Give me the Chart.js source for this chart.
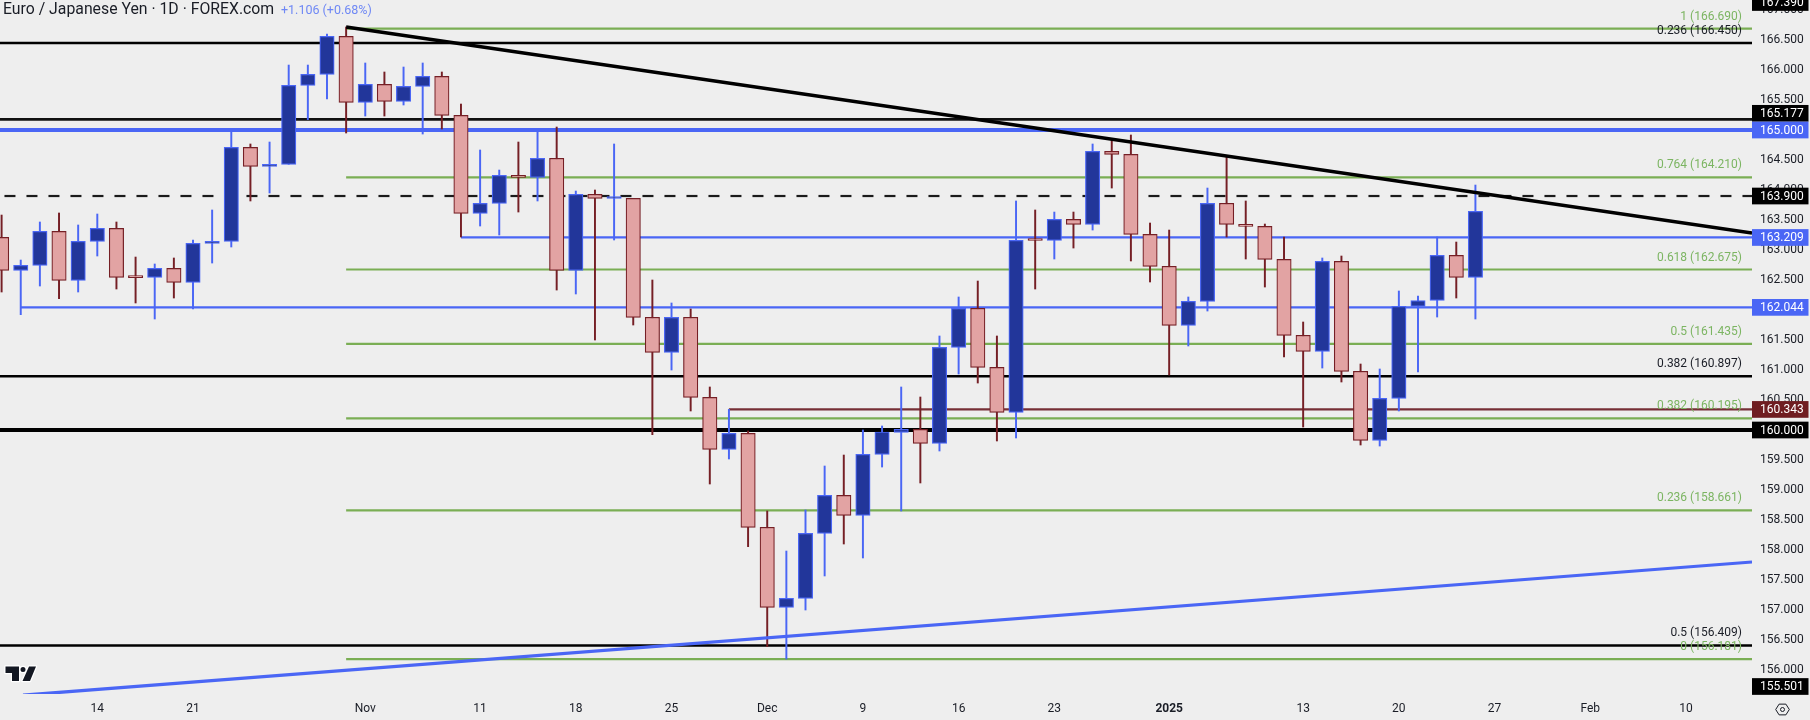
<!DOCTYPE html>
<html><head><meta charset="utf-8">
<style>html,body{margin:0;padding:0;background:#eeeeee;overflow:hidden}canvas{display:block}</style>
<script src="https://cdn.jsdelivr.net/npm/chart.js@4"></script>
</head><body><canvas id="c" width="1810" height="720"></canvas>
<script>
const opens=[163.211,162.661,162.744,163.311,162.494,163.144,163.361,162.544,162.544,162.694,162.461,163.111,163.144,164.711,164.394,164.428,165.744,165.928,166.561,165.461,165.761,165.478,165.728,165.894,165.244,163.611,163.778,164.244,164.211,164.528,162.661,163.928,163.858,163.861,161.878,161.294,161.878,160.544,159.678,159.944,158.378,157.044,157.194,158.278,158.911,158.578,159.594,159.961,160.011,159.778,161.378,162.028,161.044,160.294,163.161,163.161,163.511,163.428,164.644,164.594,163.261,162.728,161.744,162.144,163.778,163.428,163.394,162.844,161.578,161.311,162.811,160.978,159.828,160.528,162.061,162.161,162.911,162.544];
const closes=[162.661,162.744,163.311,162.494,163.144,163.361,162.544,162.540,162.694,162.461,163.111,163.144,164.711,164.394,164.428,165.744,165.928,166.561,165.461,165.761,165.478,165.728,165.894,165.244,163.611,163.778,164.244,164.211,164.528,162.661,163.928,163.861,163.861,161.878,161.294,161.878,160.544,159.678,159.944,158.378,157.044,157.194,158.278,158.911,158.578,159.594,159.967,160.011,159.778,161.378,162.028,161.044,160.294,163.161,163.158,163.511,163.428,164.644,164.594,163.261,162.728,161.744,162.144,163.778,163.428,163.394,162.844,161.578,161.311,162.811,160.978,159.828,160.528,162.061,162.156,162.911,162.544,163.644];
const highs=[163.583,162.833,163.467,163.617,163.417,163.600,163.467,162.883,162.767,162.867,163.167,163.667,164.972,164.767,164.800,166.083,166.083,166.600,166.717,166.117,165.967,166.050,166.117,165.967,165.433,164.667,164.333,164.800,164.972,165.050,163.983,164.000,164.767,163.861,162.500,162.117,162.017,160.717,160.344,159.983,158.650,157.983,158.667,159.400,159.583,160.000,160.067,160.717,160.550,161.567,162.217,162.483,161.567,163.817,163.667,163.633,163.633,164.767,164.833,164.917,163.450,163.333,162.217,164.033,164.556,163.817,163.433,163.217,161.800,162.867,162.900,161.100,161.017,162.317,162.233,163.217,163.133,164.083];
const lows=[162.300,161.922,162.400,162.189,162.300,162.900,162.350,162.117,161.850,162.200,162.017,162.783,163.050,163.817,163.950,164.428,165.172,165.517,164.950,165.233,165.233,165.417,164.933,165.017,163.217,163.400,163.250,163.633,163.817,162.333,162.267,161.500,163.167,161.750,159.922,161.000,160.317,159.100,159.517,158.056,156.389,156.183,157.000,157.567,158.100,157.867,159.383,158.650,159.117,159.650,160.933,160.783,159.817,159.867,162.350,162.850,163.033,163.333,164.033,162.817,162.467,160.917,161.400,161.983,163.217,162.850,162.383,161.217,160.050,161.033,160.800,159.750,159.733,160.317,160.967,161.883,162.200,161.850];

const xTickIndex=[5,10,19,25,30,35,40,45,50,55,61,68,73,78,83,88];
const xTickLabels=['14','21','Nov','11','18','25','Dec','9','16','23','2025','13','20','27','Feb','10'];
const yTickValues=[156,156.5,157,157.5,158,158.5,159,159.5,160,160.5,161,161.5,162,162.5,163,163.5,164,164.5,165,165.5,166,166.5,167];

const fibGreen=[166.690,164.210,162.675,161.435,160.195,158.661,156.181];
const fibGreenLabels=['1 (166.690)','0.764 (164.210)','0.618 (162.675)','0.5 (161.435)','0.382 (160.195)','0.236 (158.661)','0 (156.181)'];
const fibBlack=[166.450,160.897,156.409];
const fibBlackLabels=['0.236 (166.450)','0.382 (160.897)','0.5 (156.409)'];
const level165177=165.177, level165=165.000, level160=160.000, level1639=163.900;
const level163209=163.209, level162044=162.044, level160343=160.343;
const trendBlackX=[18,91.45], trendBlackY=[166.717,163.283];
const trendBlueX=[1.12,91.45], trendBlueY=[155.58,157.800];
const priceLabelValues=[167.390,165.177,165.000,163.900,163.209,162.044,160.343,160.000,155.501];
const priceLabelKinds=['k','k','b','k','b','b','r','k','k'];
const titleMain='Euro / Japanese Yen · 1D · FOREX.com';
const titleChange='+1.106 (+0.68%)';

const C={bg:'#eeeeee',upFill:'#22369a',upLine:'#4a66f5',dnFill:'#e2a3a3',dnLine:'#751f25',green:'#7aae54',greenText:'#7cb562',black:'#000000',blue:'#4a66f5',red:'#762f36',text:'#1a1d26'};
const FONT='Roboto, sans-serif';
const isUp=opens.map((o,i)=>closes[i]>o);
const idx=opens.map((_,i)=>i);
const hline=(y,from,color,w,extra)=>Object.assign({type:'line',data:[{x:from,y},{x:91.45,y}],borderColor:color,borderWidth:w,pointRadius:0,tension:0,order:3,borderCapStyle:'butt'},extra||{});
const seg=(xs,ys,color,w)=>({type:'line',data:xs.map((x,i)=>({x,y:ys[i]})),borderColor:color,borderWidth:w,pointRadius:0,tension:0,order:0,borderCapStyle:'butt'});

const datasets=[
  seg(trendBlackX,trendBlackY,C.black,3.4),
  seg(trendBlueX,trendBlueY,C.blue,3.2),
  {type:'bar',grouped:false,order:1,barThickness:14.4,minBarLength:2,borderWidth:1.2,borderSkipped:false,
   data:idx.map(i=>({x:i,y:[opens[i],closes[i]]})),
   backgroundColor:idx.map(i=>isUp[i]?C.upFill:C.dnFill),borderColor:idx.map(i=>isUp[i]?C.upLine:C.dnLine)},
  {type:'bar',grouped:false,order:2,barThickness:1.3,borderWidth:0,
   data:idx.map(i=>({x:i,y:[lows[i],highs[i]]})),
   backgroundColor:idx.map(i=>isUp[i]?C.upLine:C.dnLine)},
  ...fibGreen.map(v=>hline(v,18,C.green,2.2)),
  ...fibBlack.map(v=>hline(v,-1,C.black,2.4)),
  hline(level165177,-1,'#111111',2.6),
  hline(level165,-1,C.blue,4),
  hline(level160,-1,C.black,4),
  hline(level1639,-1,'#1a1a1a',2.2,{borderDash:[11,11]}),
  hline(level163209,24,C.blue,2.2),
  hline(level162044,1,C.blue,2.2),
  hline(level160343,38,C.red,2.2)
];

const overlay={id:'overlay',
 afterDatasetsDraw(chart){
  const ctx=chart.ctx,y=chart.scales.y,a=chart.chartArea;
  ctx.save();ctx.textAlign='right';ctx.textBaseline='middle';ctx.font='12px '+FONT;
  fibGreen.forEach((v,i)=>{ctx.fillStyle=C.greenText;ctx.fillText(fibGreenLabels[i],1742,y.getPixelForValue(v)-12);});
  fibBlack.forEach((v,i)=>{ctx.fillStyle=C.text;ctx.fillText(fibBlackLabels[i],1742,y.getPixelForValue(v)-12);});
  ctx.textAlign='left';ctx.font='15.8px '+FONT;ctx.fillStyle=C.text;ctx.fillText(titleMain,3,10.5);
  ctx.font='12.5px '+FONT;ctx.fillStyle='#6f88f5';ctx.fillText(titleChange,281,10.5);
  ctx.strokeStyle='#ffffff';ctx.lineWidth=2.5;ctx.lineJoin='round';
  const logo=()=>{ctx.beginPath();ctx.moveTo(5.5,666.5);ctx.lineTo(19,666.5);ctx.lineTo(19,681);ctx.lineTo(12,681);ctx.lineTo(12,673);ctx.lineTo(5.5,673);ctx.closePath();
    ctx.moveTo(29,666.5);ctx.lineTo(36,666.5);ctx.lineTo(30,681);ctx.lineTo(22.5,681);ctx.closePath();
    ctx.moveTo(25.5,669.5);ctx.arc(23,669.5,2.5,0,7);};
  logo();ctx.stroke();logo();ctx.fillStyle='#131722';ctx.fill();
  ctx.restore();
 },
 afterDraw(chart){
  const ctx=chart.ctx,y=chart.scales.y;
  ctx.save();ctx.textAlign='left';ctx.textBaseline='middle';ctx.font='12px '+FONT;
  const H=16.7,fills={k:'#000000',b:'#4a66f5',r:'#6f1d21'};
  let below=Infinity;const pos=[];
  for(let i=priceLabelValues.length-1;i>=0;i--){
    let p=Math.min(Math.max(y.getPixelForValue(priceLabelValues[i]),2.5),686.5);
    if(p>below-H)p=below-H;pos[i]=p;below=p;}
  priceLabelValues.forEach((v,i)=>{ctx.fillStyle=fills[priceLabelKinds[i]];ctx.fillRect(1752,pos[i]-H/2,56.5,H);
    ctx.fillStyle='#ffffff';ctx.fillText(v.toFixed(3),1760,pos[i]+0.5);});
  ctx.strokeStyle='#1a1d26';ctx.lineWidth=1;ctx.beginPath();
  for(let k=0;k<6;k++){const t=Math.PI/3*k;const X=1782.5+6.8*Math.cos(t),Y=709.5+6.2*Math.sin(t);k?ctx.lineTo(X,Y):ctx.moveTo(X,Y);}
  ctx.closePath();ctx.stroke();ctx.beginPath();ctx.arc(1782.5,709.5,2,0,7);ctx.stroke();
  ctx.restore();
 },
 beforeDraw(chart){const c=chart.ctx;c.save();c.fillStyle=C.bg;c.fillRect(0,0,chart.width,chart.height);c.restore();}
};

new Chart(document.getElementById('c'),{
 type:'bar',data:{datasets},plugins:[overlay],
 options:{responsive:false,devicePixelRatio:1,animation:false,
  layout:{padding:0},
  plugins:{legend:{display:false},tooltip:{enabled:false},title:{display:false}},
  scales:{
   x:{type:'linear',offset:false,min:-0.0836,max:91.45,bounds:'data',
      grid:{display:false,offset:false,drawTicks:false},border:{display:false},
      afterBuildTicks:a=>{a.ticks=xTickIndex.map(v=>({value:v}));},
      afterFit:a=>{a.height=26;a.paddingLeft=0;a.paddingRight=0;},
      ticks:{autoSkip:false,maxRotation:0,minRotation:0,padding:8,color:C.text,includeBounds:false,
        callback:v=>xTickLabels[xTickIndex.indexOf(v)],
        font:c=>({family:FONT,size:12,weight:(c.tick&&c.tick.value===61)?'bold':'normal'})}},
   y:{type:'linear',position:'right',min:155.6,max:167.167,bounds:'data',
      grid:{display:false,drawTicks:false},border:{display:false},
      afterBuildTicks:a=>{a.ticks=yTickValues.map(v=>({value:v}));},
      afterFit:a=>{a.width=58;a.paddingTop=0;a.paddingBottom=0;},
      ticks:{autoSkip:false,padding:8,color:C.text,font:{family:FONT,size:12},
        callback:v=>Number(v).toFixed(3)}}
  }}
});
</script></body></html>
